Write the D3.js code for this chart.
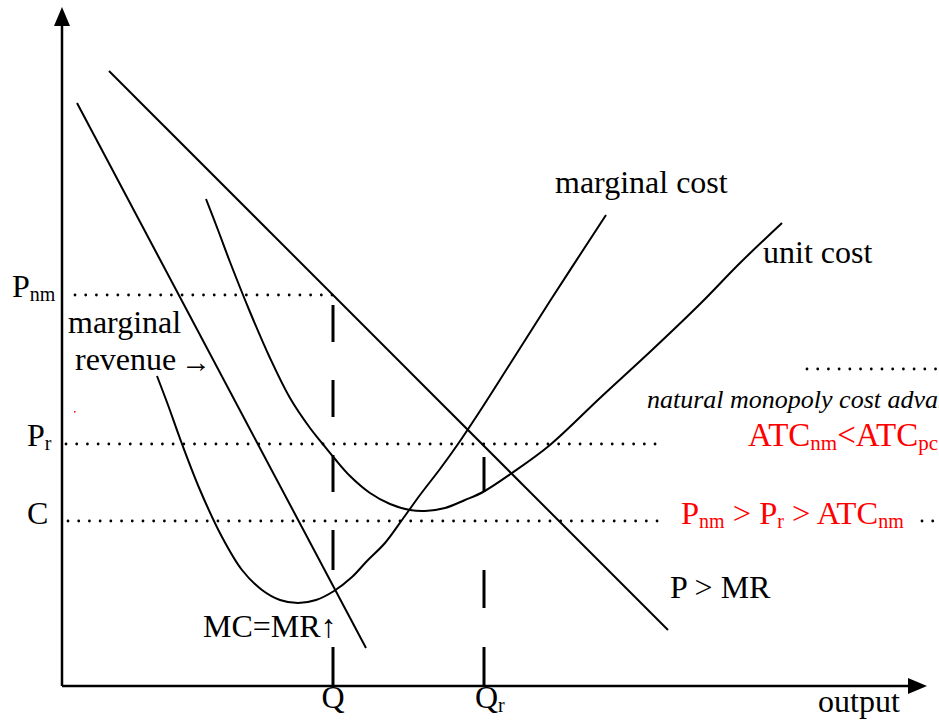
<!DOCTYPE html>
<html>
<head>
<meta charset="utf-8">
<script src="https://cdn.jsdelivr.net/npm/d3@7"></script>
<style>
  html, body { margin: 0; padding: 0; background: #fff; }
  svg { display: block; font-family: "Liberation Serif", "Times New Roman", serif; }
</style>
</head>
<body>
<svg id="chart"></svg>
<script>
// chart units: x = output, y = price/cost (arbitrary units)
const demand = [[47, 615], [606, 56]];
const marginalRevenue = [[15, 583], [304, 38]];
const marginalCost = [
  [95, 310], [106, 281], [120, 242], [138, 196], [160, 149], [180, 116], [200, 96],
  [218, 86], [236, 83], [254, 86], [272, 95], [290, 109], [305, 125], [323, 143],
  [340, 166], [358, 191], [378, 217], [396, 242], [418, 275], [448, 322], [488, 385], [544, 471]
];
const unitCost = [
  [144, 487], [156, 456], [168, 424], [188, 374], [208, 328], [228, 288], [248, 258],
  [260, 243], [273, 227], [288, 210], [308, 193], [328, 182], [348, 176], [363, 175],
  [383, 178], [403, 186], [421, 194], [450, 213], [488, 241], [538, 288], [590, 336],
  [638, 382], [678, 423], [720, 463]
];
const priceLevels = { Pnm: 391, Pr: 242, C: 165 };
const quantities = { Q: 271, Qr: 422 };
const qDashes = [[381, 344], [306, 269], [231, 194], [156, 116], [39, 0]];
const qrDashes = [[229, 194], [116, 78], [39, 0]];

const W = 939, H = 721;
const svg = d3.select('#chart').attr('width', W).attr('height', H);

const x = d3.scaleLinear().domain([0, 850]).range([62, 912]);
const y = d3.scaleLinear().domain([0, 678]).range([686, 8]);

const line = d3.line().x(d => x(d[0])).y(d => y(d[1]));
const smooth = d3.line().x(d => x(d[0])).y(d => y(d[1])).curve(d3.curveCatmullRom.alpha(0.5));

// axes
svg.append('line')
  .attr('x1', x(0)).attr('y1', y(0)).attr('x2', x(0)).attr('y2', y(660))
  .attr('stroke', '#000').attr('stroke-width', 2.5);
svg.append('path')
  .attr('d', `M${x(0)},${y(678) - 1} L${x(0) - 8},${y(660)} L${x(0) + 8},${y(660)} Z`)
  .attr('fill', '#000');
svg.append('line')
  .attr('x1', x(0)).attr('y1', y(0)).attr('x2', x(848)).attr('y2', y(0))
  .attr('stroke', '#000').attr('stroke-width', 2.5);
svg.append('path')
  .attr('d', `M${x(865)},${y(0)} L${x(846)},${y(0) - 8} L${x(846)},${y(0) + 8} Z`)
  .attr('fill', '#000');

// dotted levels
function dotted(x0, x1, v) {
  svg.append('line')
    .attr('x1', x(x0)).attr('x2', x(x1)).attr('y1', y(v)).attr('y2', y(v))
    .attr('stroke', '#000').attr('stroke-width', 2.8)
    .attr('stroke-linecap', 'round').attr('stroke-dasharray', '0.01 10.7');
}
dotted(13, 271, priceLevels.Pnm);
dotted(4, 598, priceLevels.Pr);
dotted(6, 598, priceLevels.C);
dotted(745, 880, 317);
dotted(860, 880, priceLevels.C);

// curves
const curveStyle = s => s.attr('fill', 'none').attr('stroke', '#000').attr('stroke-width', 2);
curveStyle(svg.append('path').attr('d', line(demand)));
curveStyle(svg.append('path').attr('d', line(marginalRevenue)));
curveStyle(svg.append('path').attr('d', smooth(marginalCost)));
curveStyle(svg.append('path').attr('d', smooth(unitCost)));

// dashed quantity markers
qDashes.forEach(([a, b]) => {
  svg.append('line').attr('x1', x(quantities.Q)).attr('x2', x(quantities.Q))
    .attr('y1', y(a)).attr('y2', y(b)).attr('stroke', '#000').attr('stroke-width', 3);
});
qrDashes.forEach(([a, b]) => {
  svg.append('line').attr('x1', x(quantities.Qr)).attr('x2', x(quantities.Qr))
    .attr('y1', y(a)).attr('y2', y(b)).attr('stroke', '#000').attr('stroke-width', 3);
});

// tiny red speck
svg.append('rect').attr('x', 74).attr('y', 411).attr('width', 1.5).attr('height', 1.5).attr('fill', 'red');

// labels; {sub} parts are drawn as subscripts
function label(px, py, parts, opts = {}) {
  const size = opts.size || 32;
  const t = svg.append('text').attr('x', px).attr('y', py)
    .attr('font-size', size).attr('fill', opts.color || '#000');
  if (opts.italic) t.attr('font-style', 'italic');
  if (opts.anchor) t.attr('text-anchor', opts.anchor);
  let shift = 0;
  parts.forEach(p => {
    if (typeof p === 'string') {
      t.append('tspan').attr('font-size', size).attr('dy', -shift).text(p);
      shift = 0;
    } else {
      t.append('tspan').attr('font-size', p.size || 20).attr('dy', 4 - shift).text(p.sub);
      shift = 4;
    }
  });
  return t;
}

label(12, 297, ['P', { sub: 'nm' }]);
label(27, 446, ['P', { sub: 'r' }]);
label(27, 524, ['C']);

label(68, 333, ['marginal']);
label(75, 370, ['revenue']);
label(181, 372, ['\u2192'], { size: 30 });

label(555, 193, ['marginal cost']);
label(763, 263, ['unit cost']);

label(647, 408, ['natural monopoly cost advantage'], { italic: true, size: 26 });
label(748, 446, ['ATC', { sub: 'nm', size: 21 }, '<ATC', { sub: 'pc', size: 21 }], { color: 'red', size: 33 });
label(681, 524, ['P', { sub: 'nm' }, ' > P', { sub: 'r' }, ' > ATC', { sub: 'nm' }], { color: 'red', size: 32.5 });

label(670, 598, ['P > MR']);
label(203, 637, ['MC=MR\u2191']);

label(x(quantities.Q), 708, ['Q'], { anchor: 'middle' });
label(475, 708, ['Q', { sub: 'r' }]);
label(818, 712, ['output']);
</script>
</body>
</html>
